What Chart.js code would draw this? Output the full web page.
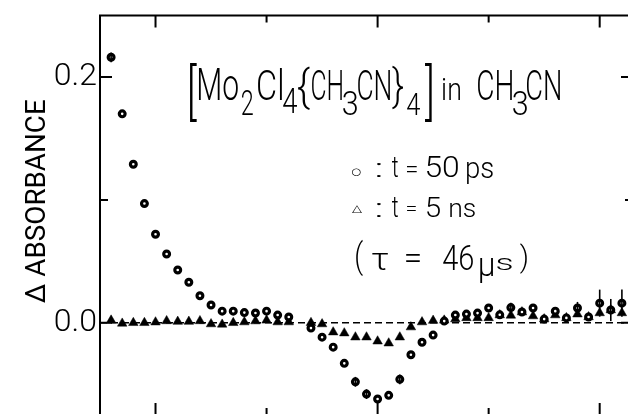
<!DOCTYPE html>
<html>
<head>
<meta charset="utf-8">
<script src="https://cdn.jsdelivr.net/npm/chart.js@4.4.1/dist/chart.umd.min.js"></script>
<style>
  html, body { margin: 0; padding: 0; background: #fff; overflow: hidden; }
  #wrap { position: absolute; left: 0; top: 0; width: 650px; height: 430px; }
</style>
</head>
<body>
<div id="wrap"><canvas id="c" width="650" height="430"></canvas></div>
<script>
// Probe wavelength (nm)
const WAVELENGTH = [380,385,390,395,400,405,410,415,420,425,430,435,440,445,450,455,460,465,
  470,475,480,485,490,495,500,505,510,515,520,525,530,535,540,545,550,555,560,565,570,575,
  580,585,590,595,600,605,610];

// Transient absorbance change at t = 50 ps (circles)
const DA_50PS = [0.216,0.170,0.129,0.097,0.072,0.056,0.043,0.033,0.022,0.0145,0.0095,0.0095,
  0.0083,0.008,0.0095,0.0063,0.0047,null,-0.0043,-0.0117,-0.0198,-0.033,-0.048,-0.058,-0.062,
  -0.059,-0.046,-0.026,-0.0158,-0.010,0.0014,0.0063,0.0071,0.0079,0.012,0.0065,0.0124,0.0088,
  0.012,0.003,0.0095,0.004,0.012,0.0047,0.016,0.0104,0.016];

// Transient absorbance change at t = 5 ns (triangles)
const DA_5NS = [0.002,-0.0005,0.0,0.0,0.0005,0.0015,0.001,0.001,0.0015,-0.001,-0.0013,0.0,
  0.0006,0.0014,0.002,0.0006,0.0006,null,0.0,-0.001,-0.0076,-0.0084,-0.0117,-0.0117,-0.015,
  -0.0166,-0.0117,-0.0035,0.0006,0.0018,0.002,0.003,0.004,0.004,0.004,0.0063,0.006,0.0087,
  0.0055,0.003,0.0063,0.004,0.007,0.0047,0.008,0.0104,0.008];

// Error bar half-lengths (absorbance units), 0 = none
const ERR_50PS = [0.004,0,0,0,0,0,0,0,0,0,0,0,0,0,0,0,0,0,0,0,0,0,0.004,0.004,0,0,0.004,0,0,0,
  0,0,0,0,0,0,0.004,0,0,0,0,0,0.005,0,0.011,0,0.011];
const ERR_5NS = [0,0,0,0,0,0,0,0,0,0,0,0,0,0,0,0,0,0,0,0,0,0,0,0,0,0,0,0,0,0,
  0,0,0,0,0,0,0,0,0,0,0,0,0,0,0,0.009,0];

// Axis ticks
const Y_TICKS = [0, 0.1, 0.2];
const Y_LABELED = [0, 0.2];
const Y_MAJOR = [0, 0.2];
const Y_MINOR = [0.1];
const X_MAJOR = [400, 500, 600];
const X_MINOR = [450, 550];

const FONT = 'Roboto, "Liberation Sans", "DejaVu Sans", sans-serif';
const SYMBOL_FONT = '"DejaVu Sans", sans-serif';

function points(vals, errs) {
  return WAVELENGTH.map((x, i) => ({ x: x, y: vals[i], e: errs[i] }))
                   .filter(p => p.y !== null);
}

// Draws a text run so that its ink fills the given box.
function fitText(ctx, text, x0, y0, x1, y1, family, weight) {
  ctx.save();
  ctx.font = (weight || 300) + ' 100px ' + (family || FONT);
  ctx.textAlign = 'left';
  ctx.textBaseline = 'alphabetic';
  const m = ctx.measureText(text);
  const w = m.actualBoundingBoxLeft + m.actualBoundingBoxRight;
  const h = m.actualBoundingBoxAscent + m.actualBoundingBoxDescent;
  const sx = (x1 - x0) / w, sy = (y1 - y0) / h;
  ctx.translate(x0 + m.actualBoundingBoxLeft * sx, y0 + m.actualBoundingBoxAscent * sy);
  ctx.scale(sx, sy);
  ctx.fillStyle = '#000';
  ctx.fillText(text, 0, 0);
  ctx.restore();
}

// Formula, legend and lifetime annotation: [text, x0, y0, x1, y1, font, weight]
const ANNOTATION = [
  ['[', 190, 62, 197, 122], ['Mo', 199, 68, 238, 100], ['2', 242, 90, 253, 115],
  ['Cl', 258, 68, 282, 100], ['4', 283, 88, 297, 113], ['{', 298, 67, 310, 110],
  ['CH', 312, 68, 342, 100], ['3', 343, 90, 357, 115], ['CN', 358, 68, 390, 100],
  ['}', 392, 67, 403, 110], ['4', 407, 93, 420, 115], [']', 425, 62, 432, 122],
  ['in', 443, 78, 460, 100], ['CH', 478, 68, 512, 100], ['3', 513, 90, 527, 115],
  ['CN', 527, 68, 560, 100],
  ['\u25CB', 352, 168, 361, 176, SYMBOL_FONT, 400], [':', 377, 163, 381, 177], ['t', 392, 157, 398, 177],
  ['=', 407, 166, 417, 172], ['50', 427, 155, 458, 177], ['ps', 467, 162, 493, 184],
  ['\u25B3', 352, 205, 362, 213, SYMBOL_FONT, 400], [':', 377, 203, 381, 217], ['t', 392, 197, 398, 217],
  ['=', 407, 206, 416, 211], ['5', 427, 197, 440, 217], ['ns', 450, 203, 475, 217],
  ['(', 356, 240, 363, 276], ['\u03C4', 372, 253, 388, 270], ['=', 406, 254, 420, 262],
  ['46', 443, 245, 473, 270], ['\u03BC', 480, 258, 493, 283], ['s', 497, 258, 512, 270],
  [')', 520, 243, 527, 274]
];

const framePlugin = {
  id: 'frame',
  beforeDatasetsDraw(chart) {
    const { ctx, chartArea: a, scales: { y } } = chart;
    const y0 = y.getPixelForValue(0);
    ctx.save();
    ctx.strokeStyle = '#000';
    ctx.lineWidth = 1.5;
    ctx.setLineDash([7, 4]);
    ctx.beginPath();
    ctx.moveTo(a.left, y0);
    ctx.lineTo(a.right, y0);
    ctx.stroke();
    ctx.restore();
  },
  afterDatasetsDraw(chart) {
    const { ctx, chartArea: a, scales: { x, y } } = chart;
    ctx.save();
    ctx.strokeStyle = '#000';
    // error bars
    ctx.lineWidth = 1.6;
    chart.data.datasets.forEach((ds, di) => {
      const meta = chart.getDatasetMeta(di);
      ds.data.forEach((p, j) => {
        if (!p.e) return;
        const px = meta.data[j].x;
        ctx.beginPath();
        ctx.moveTo(px, y.getPixelForValue(p.y + p.e));
        ctx.lineTo(px, y.getPixelForValue(p.y - p.e));
        ctx.stroke();
      });
    });
    // frame
    ctx.lineWidth = 2;
    ctx.strokeRect(a.left, a.top, a.right - a.left, a.bottom - a.top);
    // inward ticks
    const xt = (v, len) => {
      const px = x.getPixelForValue(v);
      ctx.beginPath();
      ctx.moveTo(px, a.top); ctx.lineTo(px, a.top + len);
      ctx.moveTo(px, a.bottom); ctx.lineTo(px, a.bottom - len);
      ctx.stroke();
    };
    const yt = (v, len) => {
      const py = y.getPixelForValue(v);
      ctx.beginPath();
      ctx.moveTo(a.left, py); ctx.lineTo(a.left + len, py);
      ctx.moveTo(a.right, py); ctx.lineTo(a.right - len, py);
      ctx.stroke();
    };
    X_MAJOR.forEach(v => xt(v, 12));
    X_MINOR.forEach(v => xt(v, 7));
    Y_MAJOR.forEach(v => yt(v, 12));
    Y_MINOR.forEach(v => yt(v, 8));
    ctx.restore();
  },
  afterDraw(chart) {
    const ctx = chart.ctx;
    ANNOTATION.forEach(r => fitText(ctx, r[0], r[1], r[2], r[3], r[4], r[5], r[6]));
    // vertical axis title
    ctx.save();
    ctx.rotate(-Math.PI / 2);
    fitText(ctx, '\u0394 ABSORBANCE', -303, 25, -100, 45, FONT, 400);
    ctx.restore();
  }
};

new Chart(document.getElementById('c').getContext('2d'), {
  type: 'scatter',
  data: {
    datasets: [
      {
        label: 't = 50 ps',
        data: points(DA_50PS, ERR_50PS),
        pointStyle: 'circle',
        pointRadius: 2.9,
        borderWidth: 3.2,
        borderColor: '#000',
        backgroundColor: '#fff',
        order: 1
      },
      {
        label: 't = 5 ns',
        data: points(DA_5NS, ERR_5NS),
        pointStyle: 'triangle',
        pointRadius: 5.5,
        borderWidth: 0.5,
        borderColor: '#000',
        backgroundColor: '#000',
        order: 2
      }
    ]
  },
  options: {
    responsive: false,
    animation: false,
    devicePixelRatio: 1,
    layout: { padding: { left: 0, top: 15.5, right: 17, bottom: 15 } },
    plugins: { legend: { display: false }, tooltip: { enabled: false } },
    scales: {
      x: { type: 'linear', display: false, min: 375, max: 615 },
      y: {
        type: 'linear',
        min: -0.075,
        max: 0.25,
        grid: { display: false, drawTicks: false },
        border: { display: false },
        afterBuildTicks: s => { s.ticks = Y_TICKS.map(v => ({ value: v })); },
        afterFit: s => { s.width = 100; s.paddingTop = 0; s.paddingBottom = 0; },
        ticks: {
          autoSkip: false,
          padding: 3,
          color: '#000',
          font: { family: FONT, size: 32, weight: 300, lineHeight: 1 },
          callback: v => (Y_LABELED.includes(v) ? v.toFixed(1) : '')
        }
      }
    }
  },
  plugins: [framePlugin]
});
</script>
</body>
</html>
